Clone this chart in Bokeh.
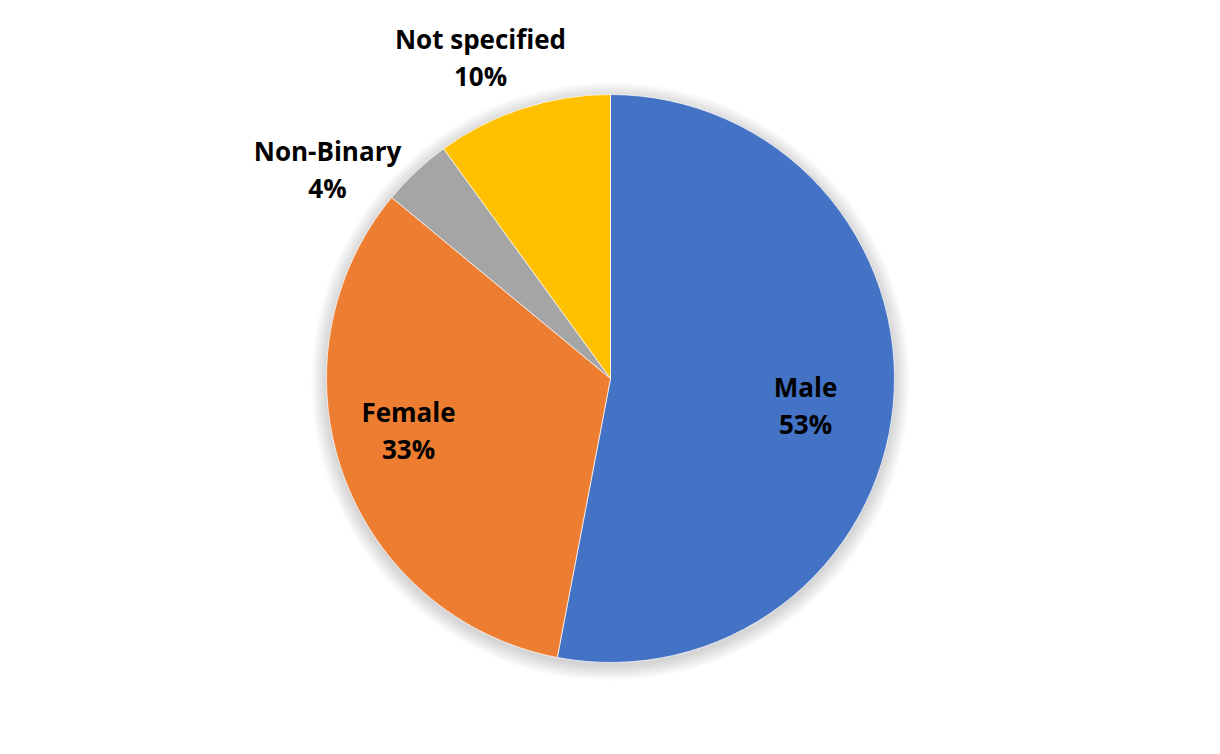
import math
from bokeh.plotting import figure
from bokeh.models import ColumnDataSource
from bokeh.core.properties import value
from bokeh.embed import file_html
from bokeh.resources import INLINE

categories = ["Male", "Female", "Non-Binary", "Not specified"]
shares = [53, 33, 4, 10]
colors = ["#4472C4", "#ED7D31", "#A5A5A5", "#FFC000"]
# label offsets from the pie centre, in pixels (layout, not data)
label_dx = [195, -202, -283, -130]
label_dy = [-27, -52, 209, 321]

W, H = 1204, 738
cx, cy, R = 610, 360, 284

total = sum(shares)
starts, ends, lx, ly, texts = [], [], [], [], []
acc = 0.0
for cat, s, dx, dy in zip(categories, shares, label_dx, label_dy):
    a0 = math.pi / 2 - 2 * math.pi * acc / total
    acc += s
    a1 = math.pi / 2 - 2 * math.pi * acc / total
    starts.append(a1)
    ends.append(a0)
    lx.append(cx + dx)
    ly.append(cy + dy)
    texts.append(f"{cat}\n{round(100 * s / total)}%")

src = ColumnDataSource(dict(start=starts, end=ends, color=colors))
lsrc = ColumnDataSource(dict(x=lx, y=ly, t=texts))

p = figure(width=W, height=H, x_range=(0, W), y_range=(0, H),
           output_backend="svg", toolbar_location=None,
           min_border=0, outline_line_color=None)
p.axis.visible = False
p.grid.visible = False
p.background_fill_color = "white"

# soft shadow
for k in range(14, 0, -1):
    p.circle(x=cx, y=cy - 3, radius=R + k * 1.1, fill_color="#000000",
             fill_alpha=0.01, line_color=None)

p.wedge(x=cx, y=cy, radius=R, start_angle="start", end_angle="end",
        fill_color="color", line_color="white", line_width=0.7, source=src)

p.text(x="x", y="y", text="t", source=lsrc, text_align="center",
       text_baseline="middle", text_font=value("Open Sans"),
       text_font_style="bold", text_font_size="26px", text_color="black",
       text_line_height=1.05)

open("out.html", "w").write(file_html(p, INLINE))
